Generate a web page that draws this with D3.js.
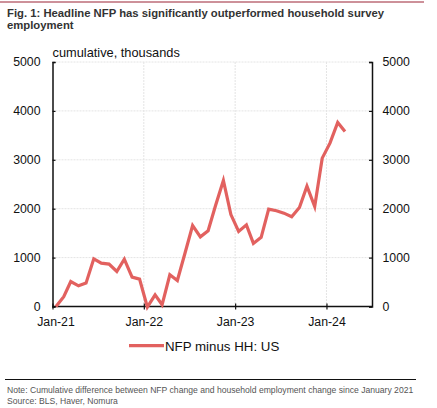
<!DOCTYPE html>
<html><head><meta charset="utf-8">
<script src="https://cdn.jsdelivr.net/npm/d3@7"></script>
<style>
body{margin:0;background:#fff;}
svg{display:block;font-family:"Liberation Sans",Arial,Helvetica,sans-serif;}
</style></head>
<body>
<script>
const months = ["2021-01","2021-02","2021-03","2021-04","2021-05","2021-06","2021-07","2021-08","2021-09","2021-10","2021-11","2021-12",
"2022-01","2022-02","2022-03","2022-04","2022-05","2022-06","2022-07","2022-08","2022-09","2022-10","2022-11","2022-12",
"2023-01","2023-02","2023-03","2023-04","2023-05","2023-06","2023-07","2023-08","2023-09","2023-10","2023-11","2023-12",
"2024-01","2024-02","2024-03"];
const values = [0,200,511,423,478,975,887,867,716,969,601,560,
-10,239,35,648,532,1100,1657,1425,1550,2070,2577,1880,
1534,1670,1290,1415,1991,1957,1909,1835,2025,2460,2045,3034,
3341,3763,3579];
const yTicks = [0,1000,2000,3000,4000,5000];
const xTickLabels = ["Jan-21","Jan-22","Jan-23","Jan-24"];
const seriesName = "NFP minus HH: US";
const title = ["Fig. 1: Headline NFP has significantly outperformed household survey","employment"];
const yUnit = "cumulative, thousands";
const notes = ["Note: Cumulative difference between NFP change and household employment change since January 2021","Source: BLS, Haver, Nomura"];

const W=437,H=408;
const L=52.5,R=372,T=62,B=306.5;
const svg=d3.select("body").append("svg").attr("width",W).attr("height",H);

const parse=d3.timeParse("%Y-%m-%d");
const x=d3.scaleTime().domain([parse("2021-01-01"),parse("2024-07-01")]).range([L,R]);
const y=d3.scaleLinear().domain([0,5000]).range([B,T]);
const tickDates=xTickLabels.map(s=>{const p=s.split("-");return parse("20"+p[1]+"-01-01");});
const data=months.map((m,i)=>({d:parse(m+"-15"),v:values[i]}));

// top rule
svg.append("line").attr("x1",0).attr("x2",424).attr("y1",2).attr("y2",2).attr("stroke","#9b2335").attr("stroke-width",1);
// title
svg.append("g").selectAll("text").data(title).join("text")
 .attr("x",7).attr("y",(d,i)=>17+i*11.5).attr("font-size",11.3).attr("font-weight","bold").attr("fill","#333").text(d=>d);

// grid
svg.append("g").selectAll("line").data(yTicks.slice(1)).join("line")
 .attr("x1",L).attr("x2",R).attr("y1",d=>y(d)).attr("y2",d=>y(d)).attr("stroke","#e4e4e4").attr("stroke-width",1).attr("stroke-dasharray","2,1");
svg.append("g").selectAll("line").data(tickDates.slice(1)).join("line")
 .attr("x1",d=>x(d)).attr("x2",d=>x(d)).attr("y1",T).attr("y2",B).attr("stroke","#e4e4e4").attr("stroke-width",1).attr("stroke-dasharray","2,1");

// axes
const fmt=d3.format("d");
const ga=svg.append("g").attr("transform",`translate(${L},0)`).call(d3.axisRight(y).tickValues(yTicks).tickSize(3).tickFormat(""));
const gb=svg.append("g").attr("transform",`translate(${R},0)`).call(d3.axisLeft(y).tickValues(yTicks).tickSize(3).tickFormat(""));
[ga,gb].forEach(g=>{g.select(".domain").attr("stroke","#111").attr("stroke-width",1.5);g.selectAll(".tick line").attr("stroke","#111").attr("stroke-width",1.2);});
svg.append("g").selectAll("text").data(yTicks).join("text").attr("x",40.5).attr("y",d=>y(d)+4.3).attr("text-anchor","end").attr("font-size",12.3).attr("fill","#111").text(fmt);
svg.append("g").selectAll("text").data(yTicks).join("text").attr("x",382.5).attr("y",d=>y(d)+4.3).attr("text-anchor","start").attr("font-size",12.3).attr("fill","#111").text(fmt);

const gx=svg.append("g").attr("transform",`translate(0,${B})`).call(d3.axisBottom(x).tickValues(tickDates).tickSize(3).tickSizeInner(3).tickFormat((d,i)=>xTickLabels[i]));
gx.select(".domain").attr("stroke","#111").attr("stroke-width",1.5).attr("d",`M${L},0H${R}`);
gx.selectAll(".tick line").attr("stroke","#111").attr("stroke-width",1.2).attr("y1",-3).attr("y2",3);
gx.selectAll(".tick text").attr("font-size",12.3).attr("fill","#111").attr("font-family","\"Liberation Sans\",Arial,sans-serif").attr("dy",0).attr("y",19);
gx.selectAll(".tick").filter((d,i)=>i===0).select("text").attr("dx",3);

svg.append("text").attr("x",52.5).attr("y",57).attr("font-size",12.8).attr("fill","#111").text(yUnit);

// line
svg.append("path").datum(data).attr("fill","none").attr("stroke","#e2615f").attr("stroke-width",3.2).attr("stroke-linejoin","miter")
 .attr("d",d3.line().x(d=>x(d.d)).y(d=>y(d.v)));

// legend
svg.append("line").attr("x1",129).attr("x2",164).attr("y1",345.7).attr("y2",345.7).attr("stroke","#e2615f").attr("stroke-width",3.2);
svg.append("text").attr("x",165).attr("y",350.5).attr("font-size",13.3).attr("fill","#111").text(seriesName);

// footer
svg.append("line").attr("x1",5).attr("x2",416).attr("y1",379.5).attr("y2",379.5).attr("stroke","#111").attr("stroke-width",1);
svg.append("g").selectAll("text").data(notes).join("text").attr("x",7).attr("y",(d,i)=>393+i*10.7).attr("font-size",8.6).attr("fill","#555").text(d=>d);
</script>
</body></html>
